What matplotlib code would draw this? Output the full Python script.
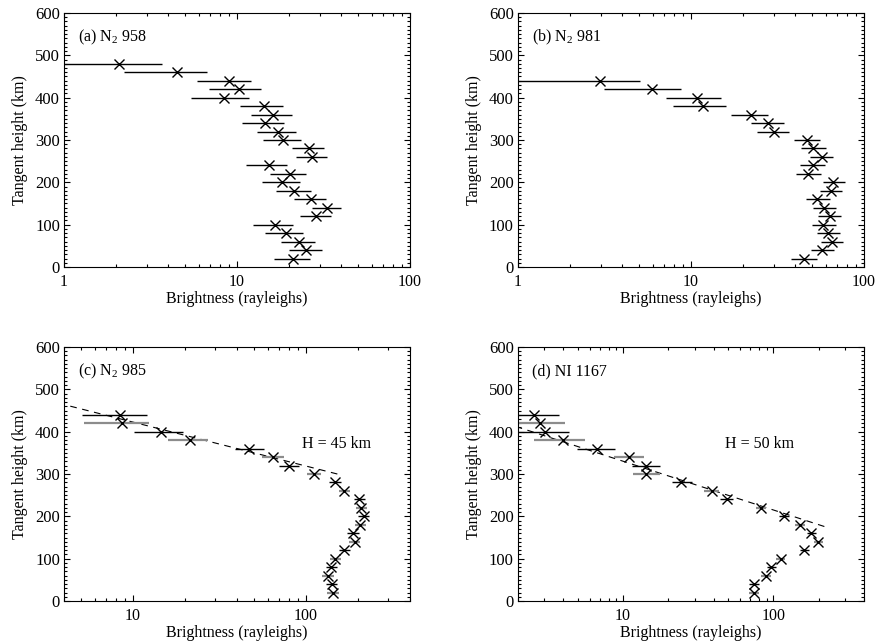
import numpy as np
import matplotlib
matplotlib.use("Agg")
import matplotlib.pyplot as plt
from matplotlib.ticker import LogLocator, MultipleLocator, FuncFormatter, NullFormatter

plt.rcParams["font.family"] = ["Liberation Serif", "DejaVu Serif"]
plt.rcParams["mathtext.fontset"] = "custom"
plt.rcParams["mathtext.rm"] = "Liberation Serif"
plt.rcParams["font.size"] = 11.5

# ---------- data ----------
# (a) N2 958
height_a = [480, 460, 440, 420, 400, 380, 360, 340, 320, 300, 280, 260,
            240, 220, 200, 180, 160, 140, 120, 100, 80, 60, 40, 20]
bright_a = [2.08, 4.47, 8.93, 10.2, 8.43, 14.3, 16.2, 14.5, 17.2, 18.5, 26.2, 27.0,
            15.2, 20.2, 18.3, 21.4, 26.6, 33.2, 28.5, 16.6, 19.1, 22.8, 25.1, 21.1]
lo_a = [0.8, 2.22, 5.83, 6.87, 5.41, 10.4, 12.1, 10.7, 13.0, 14.1, 20.9, 21.8,
        11.2, 15.5, 13.9, 16.8, 21.4, 27.2, 23.1, 12.4, 14.6, 17.9, 20.0, 16.4]
hi_a = [3.66, 6.72, 12.1, 13.7, 11.7, 18.5, 20.8, 18.7, 21.9, 23.3, 31.8, 32.9,
        19.5, 25.2, 23.1, 26.7, 32.5, 39.7, 34.8, 21.1, 24.1, 28.2, 30.8, 26.4]

# (b) N2 981
height_b = [440, 420, 400, 380, 360, 340, 320, 300, 280, 260, 240,
            220, 200, 180, 160, 140, 120, 100, 80, 60, 40, 20]
bright_b = [2.99, 5.94, 10.9, 11.8, 22.1, 27.7, 30.2, 47.1, 51.0, 57.0, 50.4,
            47.7, 66.2, 64.2, 53.8, 58.7, 63.7, 58.2, 62.2, 65.0, 57.5, 45.0]
lo_b = [0.8, 3.15, 7.16, 7.86, 17.1, 22.1, 24.0, 39.4, 43.5, 48.6, 42.7,
        40.3, 58.0, 55.5, 46.0, 50.7, 54.5, 50.3, 53.3, 56.7, 49.6, 37.7]
hi_b = [5.07, 8.81, 15.0, 15.9, 28.0, 34.5, 36.9, 55.7, 60.6, 66.5, 59.6,
        56.7, 77.3, 75.0, 63.4, 68.6, 73.9, 68.6, 72.3, 75.6, 67.1, 53.8]

# (c) N2 985
height_c = [440, 420, 400, 380, 360, 340, 320, 300, 280, 260, 240,
            220, 200, 180, 160, 140, 120, 100, 80, 60, 40, 20]
bright_c = [8.4, 8.6, 14.6, 21.4, 47.0, 64.8, 80.0, 112, 147, 167, 204,
            209, 216, 206, 187, 191, 167, 148, 140, 134, 141, 143]
lo_c = [5.05, 5.24, 10.1, 16.0, 39.0, 55.5, 70.0, 101, 136, 155, 190,
        194, 200, 191, 173, 177, 155, 137, 130, 124, 131, 132]
hi_c = [12.1, 12.4, 19.5, 27.1, 57.1, 74.8, 91.4, 123, 160, 180, 220,
        225, 233, 222, 202, 206, 180, 160, 151, 145, 152, 155]
fit_c_bright = [152, 3.0]
fit_c_height = [300, 477]

# (d) NI 1167
height_d = [440, 420, 400, 380, 360, 340, 320, 300, 280, 260, 240,
            220, 200, 180, 160, 140, 120, 100, 80, 60, 40, 20]
bright_d = [2.54, 2.79, 3.04, 3.96, 6.71, 11.0, 14.2, 14.1, 24.2, 38.8, 48.9,
            82.4, 118, 150, 179, 199, 160, 112, 97.0, 89.0, 74.3, 74.3]
lo_d = [1.5, 1.6, 1.8, 2.56, 4.93, 8.67, 11.5, 11.6, 21.0, 34.7, 44.1,
        76.0, 109, 139, 166, 185, 149, 104, 90.0, 82.0, 68.5, 68.5]
hi_d = [3.77, 4.08, 4.40, 5.56, 8.81, 13.7, 17.5, 17.7, 28.6, 43.4, 54.1,
        89.0, 127, 161, 193, 214, 172, 120, 104, 96.0, 80.0, 80.0]
fit_d_bright = [218, 1.8]
fit_d_height = [176, 416]

GRAY = "0.55"


def profile(ax, z, b, lo, hi, alternate=False):
    z, b, lo, hi = map(np.asarray, (z, b, lo, hi))
    idx = np.arange(len(z))
    if alternate:
        groups = [(idx % 2 == 1, GRAY, 1.6), (idx % 2 == 0, "black", 1.0)]
    else:
        groups = [(idx >= 0, "black", 1.0)]
    for sel, col, lw in groups:
        ax.errorbar(b[sel], z[sel], xerr=[b[sel] - lo[sel], hi[sel] - b[sel]],
                    fmt="none", ecolor=col, elinewidth=lw, capsize=0)
    ax.plot(b, z, "x", color="black", ms=7.5, mew=1.0, ls="none")


def style(ax, xlim, label):
    ax.set_xscale("log")
    ax.set_xlim(*xlim)
    ax.set_ylim(0, 600)
    ax.xaxis.set_major_locator(LogLocator(base=10))
    ax.xaxis.set_minor_locator(LogLocator(base=10, subs=np.arange(2, 10)))
    ax.xaxis.set_major_formatter(FuncFormatter(lambda v, _: f"{v:g}"))
    ax.xaxis.set_minor_formatter(NullFormatter())
    ax.yaxis.set_major_locator(MultipleLocator(100))
    ax.yaxis.set_minor_locator(MultipleLocator(10))
    ax.tick_params(which="both", direction="in", top=True, right=True, width=0.8)
    ax.tick_params(which="major", length=4.5)
    ax.tick_params(which="minor", length=2.2)
    ax.tick_params(axis="x", which="major", pad=5)
    ax.tick_params(axis="y", which="major", pad=3, labelsize=12)
    for s in ax.spines.values():
        s.set_linewidth(0.8)
    ax.set_xlabel("Brightness (rayleighs)", labelpad=1)
    ax.set_ylabel("Tangent height (km)", labelpad=5)
    ax.text(0.04, 0.905, label, transform=ax.transAxes, ha="left", va="center")


fig = plt.figure(figsize=(8.76, 6.43), dpi=100)
ax_a = fig.add_axes([0.0731, 0.5848, 0.3950, 0.3950])
ax_b = fig.add_axes([0.5913, 0.5848, 0.3950, 0.3950])
ax_c = fig.add_axes([0.0731, 0.0653, 0.3950, 0.3950])
ax_d = fig.add_axes([0.5913, 0.0653, 0.3950, 0.3950])

profile(ax_a, height_a, bright_a, lo_a, hi_a)
style(ax_a, (1, 100), "(a) N$_2$ 958")

profile(ax_b, height_b, bright_b, lo_b, hi_b)
style(ax_b, (1, 100), "(b) N$_2$ 981")

ax_c.plot(fit_c_bright, fit_c_height, color="black", ls=(0, (6, 5)), lw=0.8)
profile(ax_c, height_c, bright_c, lo_c, hi_c, alternate=True)
style(ax_c, (4, 400), "(c) N$_2$ 985")
ax_c.text(0.787, 0.618, "H = 45 km", transform=ax_c.transAxes, ha="center", va="center")

ax_d.plot(fit_d_bright, fit_d_height, color="black", ls=(0, (6, 5)), lw=0.8)
profile(ax_d, height_d, bright_d, lo_d, hi_d, alternate=True)
style(ax_d, (2, 400), "(d) NI 1167")
ax_d.text(0.697, 0.618, "H = 50 km", transform=ax_d.transAxes, ha="center", va="center")

fig.savefig("out.png", dpi=100)
